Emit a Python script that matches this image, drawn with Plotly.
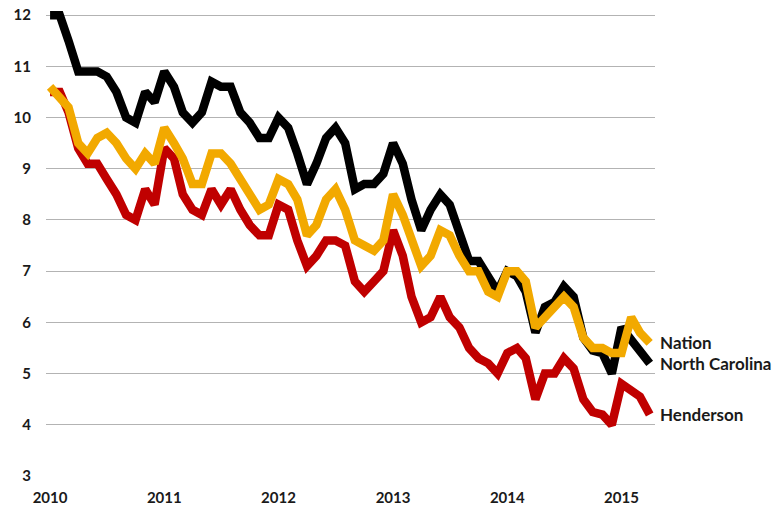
import pandas as pd
import plotly.graph_objects as go

months = pd.date_range("2010-01-01", periods=64, freq="MS")

henderson = [10.5, 10.5, 10.1, 9.4, 9.1, 9.1, 8.8, 8.5, 8.1, 8.0, 8.6, 8.3,
             9.4, 9.2, 8.5, 8.2, 8.1, 8.6, 8.3, 8.6, 8.2, 7.9, 7.7, 7.7,
             8.3, 8.2, 7.6, 7.1, 7.3, 7.6, 7.6, 7.5, 6.8, 6.6, 6.8, 7.0,
             7.8, 7.3, 6.5, 6.0, 6.1, 6.5, 6.1, 5.9, 5.5, 5.3, 5.2, 5.0,
             5.4, 5.5, 5.3, 4.5, 5.0, 5.0, 5.3, 5.1, 4.5, 4.25, 4.2, 4.0,
             4.8, 4.65, 4.55, 4.2]

north_carolina = [12.0, 12.0, 11.5, 10.9, 10.9, 10.9, 10.8, 10.5, 10.0, 9.9, 10.5, 10.3,
                  10.9, 10.6, 10.1, 9.9, 10.1, 10.7, 10.6, 10.6, 10.1, 9.9, 9.6, 9.6,
                  10.0, 9.8, 9.3, 8.7, 9.1, 9.6, 9.8, 9.5, 8.6, 8.7, 8.7, 8.9,
                  9.5, 9.1, 8.4, 7.8, 8.2, 8.5, 8.3, 7.8, 7.2, 7.2, 6.9, 6.6,
                  7.0, 6.9, 6.6, 5.8, 6.3, 6.4, 6.7, 6.5, 5.7, 5.45, 5.4, 5.0,
                  5.9, 5.65, 5.4, 5.2]

nation = [10.6, 10.4, 10.2, 9.5, 9.3, 9.6, 9.7, 9.5, 9.2, 9.0, 9.3, 9.1,
          9.8, 9.5, 9.2, 8.7, 8.7, 9.3, 9.3, 9.1, 8.8, 8.5, 8.2, 8.3,
          8.8, 8.7, 8.4, 7.7, 7.9, 8.4, 8.6, 8.2, 7.6, 7.5, 7.4, 7.6,
          8.5, 8.1, 7.6, 7.1, 7.3, 7.8, 7.7, 7.3, 7.0, 7.0, 6.6, 6.5,
          7.0, 7.0, 6.8, 5.9, 6.1, 6.3, 6.5, 6.3, 5.7, 5.5, 5.5, 5.4,
          5.4, 6.1, 5.8, 5.6]

series = [
    ("Henderson", henderson, "#C00000"),
    ("North Carolina", north_carolina, "#000000"),
    ("Nation", nation, "#F2A900"),
]

FONT = "Lato"
TXT = "#1a1a1a"

fig = go.Figure()
for name, vals, color in series:
    fig.add_trace(go.Scatter(
        x=months, y=vals, mode="lines", name=name,
        line=dict(color=color, width=8.5),
        hoverinfo="skip",
    ))
    fig.add_annotation(
        x=months[-1], y=vals[-1], text="<b>%s</b>" % name,
        showarrow=False, xanchor="left", yanchor="middle", xshift=8,
        font=dict(family=FONT, size=17, color=TXT),
    )

fig.update_layout(
    width=778, height=508,
    margin=dict(l=46, r=123, t=9, b=32),
    paper_bgcolor="white", plot_bgcolor="white",
    showlegend=False,
    font=dict(family=FONT, size=15, color=TXT),
)
fig.update_xaxes(
    range=["2009-12-19", "2015-04-18"],
    tick0="2010-01-01", dtick="M12", tickformat="<b>%Y</b>",
    showgrid=False, zeroline=False, showline=False, ticks="",
    tickfont=dict(family=FONT, size=15, color=TXT),
    ticklabelstandoff=11, automargin=False, ticklabeloverflow="allow",
)
fig.update_yaxes(
    range=[3, 12.12],
    tickvals=[3, 4, 5, 6, 7, 8, 9, 10, 11, 12],
    ticktext=["<b>%d</b>" % v for v in [3, 4, 5, 6, 7, 8, 9, 10, 11, 12]],
    showgrid=True, gridcolor="#B3B3B3", gridwidth=1,
    zeroline=False, showline=False, ticks="",
    tickfont=dict(family=FONT, size=15, color=TXT),
    ticklabelstandoff=14, automargin=False, ticklabeloverflow="allow",
)

fig.write_html(
    "out.html",
    config={"displayModeBar": False, "staticPlot": True},
    post_script="document.body.style.margin='0px';document.body.style.overflow='hidden';",
)
